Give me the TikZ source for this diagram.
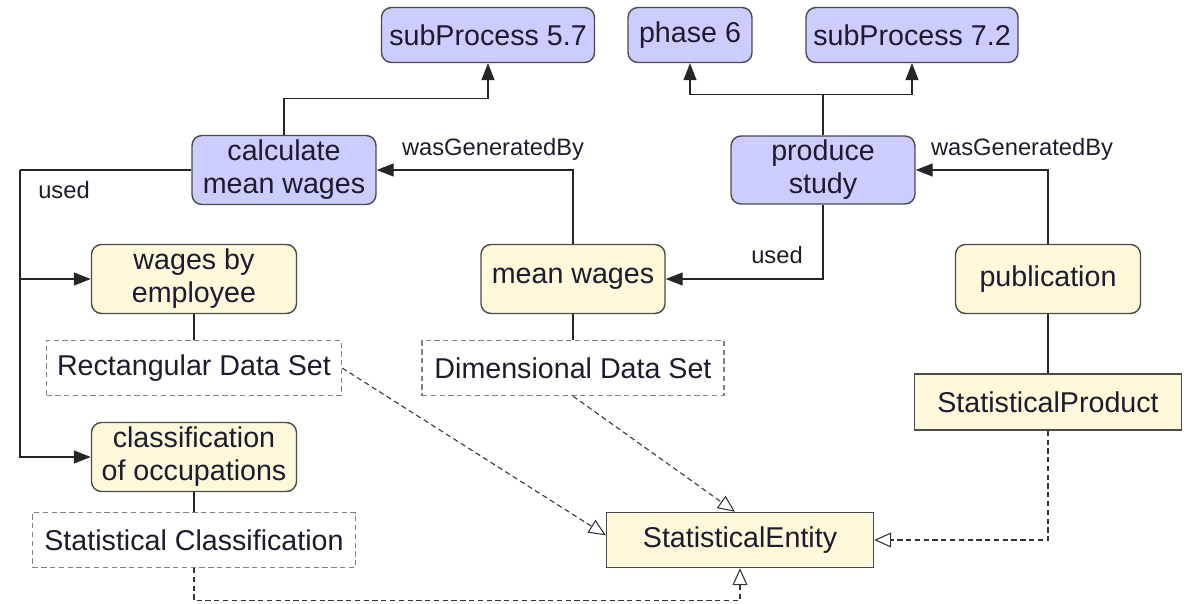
\documentclass[tikz,border=0pt]{standalone}
\usepackage{fontspec}
\setmainfont{Liberation Sans}
\usepackage{xcolor}
\usepackage{tikz}
\usetikzlibrary{arrows.meta,calc}

\definecolor{procblue}{HTML}{CCCCFF}
\definecolor{entyellow}{HTML}{FFF8DA}
\definecolor{edge}{HTML}{4A4A4A}
\definecolor{ink}{HTML}{1C1C2E}

\begin{document}
\begin{tikzpicture}[
  proc/.style={draw=edge, line width=0.8pt, fill=procblue, rounded corners=0.2cm, align=center, text=ink,
    font=\fontsize{16.3}{18.8}\selectfont, inner sep=0pt},
  ent/.style={draw=edge, line width=0.8pt, fill=entyellow, rounded corners=0.2cm, align=center, text=ink,
    font=\fontsize{16.3}{18.8}\selectfont, inner sep=0pt},
  kind/.style={draw=gray, densely dashed, line width=0.7pt, fill=white, align=center, text=ink,
    font=\fontsize{16.3}{18.8}\selectfont, inner sep=0pt, minimum height=1.1cm},
  cls/.style={draw=edge, line width=0.8pt, fill=entyellow, align=center, text=ink,
    font=\fontsize{16.3}{18.8}\selectfont, inner sep=0pt},
  lab/.style={font=\fontsize{13.5}{16}\selectfont, text=ink},
  rel/.style={draw=black!85, line width=0.8pt, -{Triangle[length=0.34cm,width=0.26cm]}},
  tie/.style={draw=black!85, line width=0.8pt},
  real/.style={draw=black!80, densely dashed, line width=0.6pt,
    -{Triangle[open,length=0.34cm,width=0.3cm]}}
]
\useasboundingbox (0,0) rectangle (23.68,-12.06);

% activities
\node[proc, minimum width=4.26cm, minimum height=1.1cm] (sp57) at (9.76,-0.70) {subProcess 5.7};
\node[proc, minimum width=2.48cm, minimum height=1.1cm] (phase6) at (13.80,-0.70) {phase 6};
\node[proc, minimum width=4.24cm, minimum height=1.1cm] (sp72) at (18.24,-0.70) {subProcess 7.2};
\node[proc, minimum width=3.68cm, minimum height=1.38cm] (calc) at (5.68,-3.40) {calculate\\mean wages};
\node[proc, minimum width=3.68cm, minimum height=1.36cm] (produce) at (16.46,-3.40) {produce\\study};

% entities
\node[ent, minimum width=4.10cm, minimum height=1.38cm] (wages) at (3.88,-5.58) {wages by\\employee};
\node[ent, minimum width=3.68cm, minimum height=1.38cm] (meanw) at (11.46,-5.58) {mean wages};
\node[ent, minimum width=3.70cm, minimum height=1.38cm] (pub) at (20.96,-5.58) {publication};
\node[ent, minimum width=4.10cm, minimum height=1.38cm] (classif) at (3.88,-9.14) {classification\\of occupations};

% entity kinds
\node[kind, minimum width=5.90cm] (rectds) at (3.88,-7.36) {Rectangular Data Set};
\node[kind, minimum width=6.04cm] (dimds) at (11.46,-7.36) {Dimensional Data Set};
\node[kind, minimum width=6.46cm] (statcl) at (3.88,-10.80) {Statistical Classification};
\node[cls, minimum width=5.34cm, minimum height=1.12cm] (statprod) at (20.96,-8.04) {StatisticalProduct};
\node[cls, minimum width=5.34cm, minimum height=1.10cm] (statent) at (14.80,-10.80) {StatisticalEntity};

% part-of links
\draw[rel] (calc.north) -- ++(0,0.73) -| (sp57.south);
\draw[tie] (produce.north) -- ++(0,0.82) coordinate (prodknee);
\draw[rel] (prodknee) -| (phase6.south);
\draw[rel] (prodknee) -| (sp72.south);

% provenance links
\draw[rel] (meanw.north) |- (calc.east);
\node[lab] (wgb1) at (9.86,-2.98) {wasGeneratedBy};
\draw[rel] (pub.north) |- (produce.east);
\node[lab] (wgb2) at (20.44,-2.98) {wasGeneratedBy};
\draw[rel] (produce.south) |- (meanw.east);
\node[lab] (used1) at (15.54,-5.10) {used};
\coordinate (usedknee) at (0.40,-3.40);
\draw[tie] (calc.west) -- (usedknee);
\draw[rel] (usedknee) |- (classif.west);
\draw[rel] (usedknee |- wages.west) -- (wages.west);
\node[lab] (used2) at (1.28,-3.80) {used};

% typing
\draw[tie] (wages.south) -- (rectds.north);
\draw[tie] (meanw.south) -- (dimds.north);
\draw[tie] (classif.south) -- (statcl.north);
\draw[tie] (pub.south) -- (statprod.north);

% realisations
\draw[real] (rectds.east) -- (statent.178);
\draw[real] (dimds.south) -- ($(statent.north)+(-0.1,0)$);
\draw[real] (statprod.south) |- (statent.east);
\draw[real] (statcl.south) -- ++(0,-0.65) -| (statent.south);
\end{tikzpicture}
\end{document}
